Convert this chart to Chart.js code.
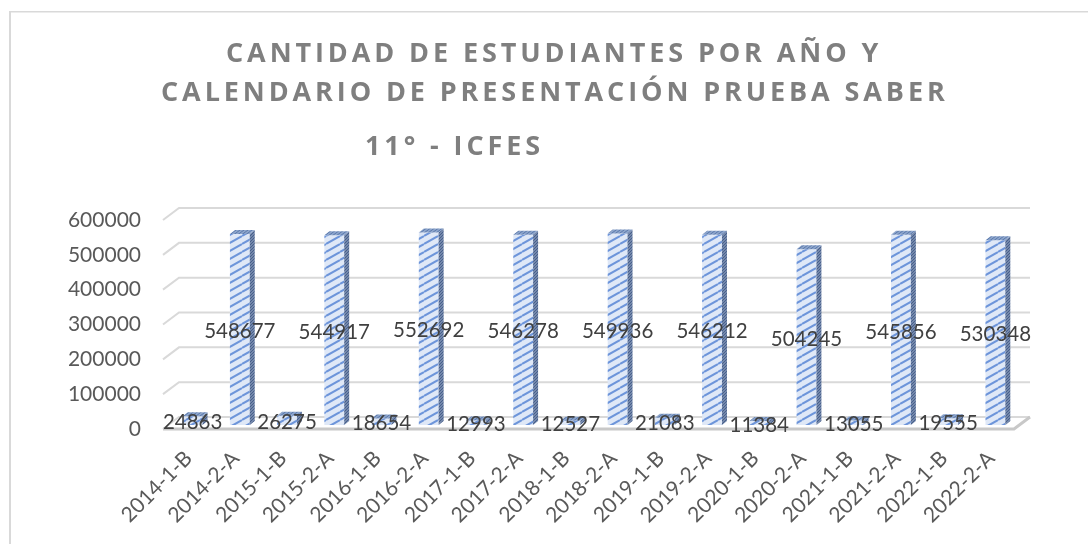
<!DOCTYPE html>
<html>
<head>
<meta charset="utf-8">
<title>Cantidad de estudiantes</title>
<script src="https://cdn.jsdelivr.net/npm/chart.js@4/dist/chart.umd.min.js"></script>
<style>
  html, body { margin: 0; padding: 0; background: #fff; overflow: hidden; }
  #wrap { width: 1088px; height: 544px; }
</style>
</head>
<body>
<div id="wrap"><canvas id="saberChart" width="1088" height="544"></canvas></div>
<script>
const categories = ["2014-1-B", "2014-2-A", "2015-1-B", "2015-2-A", "2016-1-B", "2016-2-A",
  "2017-1-B", "2017-2-A", "2018-1-B", "2018-2-A", "2019-1-B", "2019-2-A",
  "2020-1-B", "2020-2-A", "2021-1-B", "2021-2-A", "2022-1-B", "2022-2-A"];
const students = [24863, 548677, 26275, 544917, 18654, 552692,
  12993, 546278, 12527, 549936, 21083, 546212,
  11384, 504245, 13055, 545856, 19555, 530348];
const yTicks = [0, 100000, 200000, 300000, 400000, 500000, 600000];
const titleLines = [
  { text: "CANTIDAD DE ESTUDIANTES POR AÑO Y", x: 226, y: 62 },
  { text: "CALENDARIO DE PRESENTACIÓN PRUEBA SABER", x: 161, y: 101 },
  { text: "11° - ICFES", x: 365, y: 155 },
];

// depth of the fake 3D box and of the bars
const WALL_DX = 16, WALL_DY = -12;
const BAR_SHIFT_X = 4, BAR_SHIFT_Y = -4;
const BAR_DX = 5, BAR_DY = -4;

// wide upward diagonal hatch
function hatch(bg, fg, w, h, lineW) {
  const c = document.createElement("canvas");
  c.width = w;
  c.height = h;
  const p = c.getContext("2d");
  p.fillStyle = bg;
  p.fillRect(0, 0, w, h);
  p.strokeStyle = fg;
  p.lineWidth = lineW;
  [-h, 0, h].forEach((off) => {
    p.beginPath();
    p.moveTo(0, h + off);
    p.lineTo(w, off);
    p.stroke();
  });
  return p.createPattern(c, "repeat");
}

const ctx = document.getElementById("saberChart").getContext("2d");
const frontHatch = hatch("#dfe8f7", "#6d95da", 14, 8, 2);
const sideHatch = hatch("#7488ab", "#475f8b", 3, 3, 1);
const topHatch = hatch("#8ea6cc", "#5a78ab", 4, 3, 1);

// Frame, title and the walls and floor behind the bars
const backdrop = {
  id: "backdrop",
  beforeDatasetsDraw(chart) {
    const c = chart.ctx;
    const y = chart.scales.y;
    const left = chart.chartArea.left - 2;
    const right = chart.chartArea.right - 1;
    c.save();
    c.fillStyle = "#d9d9d9";
    c.fillRect(9, 11, 1079, 1.5);
    c.fillRect(9, 11, 2, 533);

    c.fillStyle = "#7f7f7f";
    c.font = "bold 27px 'Open Sans'";
    c.letterSpacing = "3.9px";
    c.textBaseline = "alphabetic";
    titleLines.forEach((l) => c.fillText(l.text, l.x, l.y));
    c.letterSpacing = "0px";

    c.strokeStyle = "#d9d9d9";
    c.lineWidth = 2;
    yTicks.forEach((t) => {
      const py = y.getPixelForValue(t);
      c.beginPath();
      c.moveTo(left, py);
      c.lineTo(left + WALL_DX, py + WALL_DY);
      c.lineTo(right + WALL_DX, py + WALL_DY);
      c.stroke();
    });
    const y0 = y.getPixelForValue(0);
    c.strokeStyle = "#c8c8c8";
    c.lineWidth = 3;
    c.beginPath();
    c.moveTo(left, y0);
    c.lineTo(right, y0);
    c.lineTo(right + WALL_DX, y0 + WALL_DY);
    c.stroke();
    c.restore();
  },
};

// Shift bars into the box and add the side and top faces
const bars3d = {
  id: "bars3d",
  beforeDatasetsDraw(chart) {
    chart.ctx.save();
    chart.ctx.translate(BAR_SHIFT_X, BAR_SHIFT_Y);
  },
  afterDatasetsDraw(chart) {
    const c = chart.ctx;
    chart.getDatasetMeta(0).data.forEach((bar) => {
      const l = bar.x - bar.width / 2;
      const r = bar.x + bar.width / 2;
      c.fillStyle = sideHatch;
      c.beginPath();
      c.moveTo(r, bar.y);
      c.lineTo(r + BAR_DX, bar.y + BAR_DY);
      c.lineTo(r + BAR_DX, bar.base + BAR_DY);
      c.lineTo(r, bar.base);
      c.closePath();
      c.fill();
      c.fillStyle = topHatch;
      c.beginPath();
      c.moveTo(l, bar.y);
      c.lineTo(l + BAR_DX, bar.y + BAR_DY);
      c.lineTo(r + BAR_DX, bar.y + BAR_DY);
      c.lineTo(r, bar.y);
      c.closePath();
      c.fill();
    });
    c.restore();
  },
};

// Value labels sit in the middle of each bar
const valueLabels = {
  id: "valueLabels",
  afterDraw(chart) {
    const c = chart.ctx;
    c.save();
    c.fillStyle = "#404040";
    c.font = "20.5px Lato";
    c.textAlign = "center";
    c.textBaseline = "middle";
    chart.getDatasetMeta(0).data.forEach((bar, i) => {
      const midY = (bar.y + bar.base) / 2 + BAR_SHIFT_Y;
      c.fillText(String(students[i]), bar.x + BAR_SHIFT_X, midY + 2);
    });
    c.restore();
  },
};

new Chart(ctx, {
  type: "bar",
  data: {
    labels: categories,
    datasets: [
      {
        label: "Estudiantes",
        data: students,
        backgroundColor: frontHatch,
        borderWidth: 0,
        barPercentage: 0.42,
        categoryPercentage: 1,
      },
    ],
  },
  options: {
    responsive: false,
    animation: false,
    layout: { padding: { top: 220, right: 73, left: 0, bottom: 0 } },
    plugins: {
      legend: { display: false },
      title: { display: false },
      tooltip: { enabled: false },
    },
    scales: {
      x: {
        grid: { display: false },
        border: { display: false },
        afterFit(scale) { scale.height = 115; },
        ticks: {
          color: "#595959",
          font: { family: "Lato", size: 21 },
          minRotation: 45,
          maxRotation: 45,
          autoSkip: false,
          padding: 9,
        },
      },
      y: {
        min: 0,
        max: 600000,
        grid: { display: false },
        border: { display: false },
        afterFit(scale) { scale.width = 165; },
        afterBuildTicks(scale) { scale.ticks = yTicks.map((v) => ({ value: v })); },
        ticks: {
          color: "#595959",
          font: { family: "Lato", size: 21 },
          padding: 16,
          callback: (v) => String(v),
        },
      },
    },
  },
  plugins: [backdrop, bars3d, valueLabels],
});
</script>
</body>
</html>
